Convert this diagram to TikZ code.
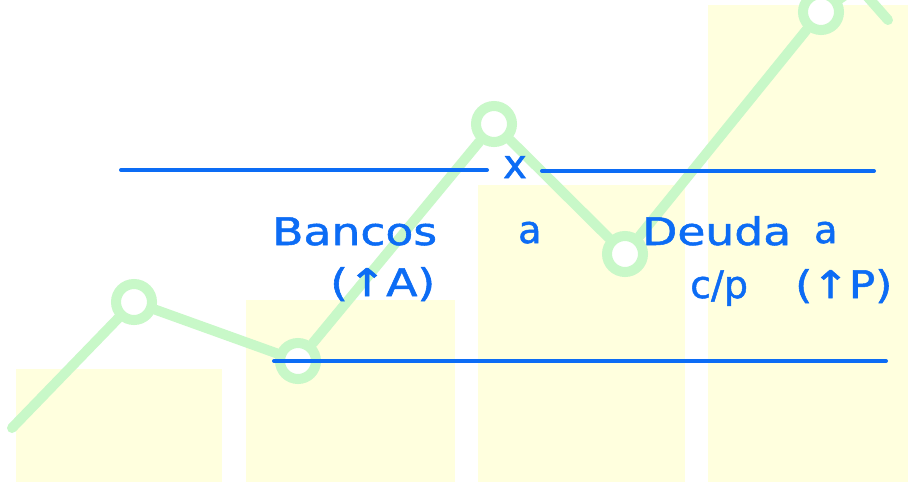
\documentclass[tikz,border=0pt]{standalone}
\usepackage{fontspec}
\setmainfont{DejaVu Sans}
\newfontfamily\handfont[FakeBold=1.3]{DejaVu Sans}
\definecolor{barY}{RGB}{255,255,222}
\definecolor{lineG}{RGB}{200,248,200}
\definecolor{inkB}{RGB}{12,108,245}
\tikzset{
  bar/.style={fill=barY, draw=none},
  gline/.style={draw=lineG, line width=10pt, line cap=round, line join=round},
  ring/.style={circle, draw=lineG, line width=10pt, fill=white, minimum size=36pt, inner sep=0pt},
  rule/.style={draw=inkB, line width=4pt, line cap=round},
  hand/.style={text=inkB, font=\handfont\fontsize{38}{40}\selectfont, inner sep=0pt, anchor=base west},
}
\begin{document}
\begin{tikzpicture}[x=1pt,y=-1pt]
\useasboundingbox (0,0) rectangle (908,482);
\fill[white] (0,0) rectangle (908,482);
% bars
\fill[bar] (16,369) rectangle (222,482);
\fill[bar] (246,300) rectangle (455,482);
\fill[bar] (478,185) rectangle (685,482);
\fill[bar] (708,5) rectangle (908,482);
% green chart line
\coordinate (p0) at (12,428);
\coordinate (tip) at (858,-14);
\coordinate (wing) at (888,20);
\node[ring] (c1) at (134,302) {};
\node[ring] (c2) at (298,361) {};
\node[ring] (c3) at (494,124) {};
\node[ring] (c4) at (625,254) {};
\node[ring] (c5) at (821,12) {};
\draw[gline] (p0) -- (c1) -- (c2) -- (c3) -- (c4) -- (c5) -- (tip) -- (wing);
% blue rules
\coordinate (t1a) at (121,170);
\coordinate (t1b) at (487,170);
\coordinate (t2a) at (542,171);
\coordinate (t2b) at (874,171);
\coordinate (b1a) at (274,361);
\coordinate (b1b) at (886,361);
\draw[rule] (t1a) -- (t1b);
\draw[rule] (t2a) -- (t2b);
\draw[rule] (b1a) -- (b1b);
\node[text=inkB, font=\handfont\fontsize{40}{42}\selectfont, inner sep=0pt, anchor=base] (x) at (515,178) {x};
% texts
\node[hand, xscale=1.2] (bancos) at (272,245) {Bancos};
\node[hand, xscale=1.2] (ia) at (330,296) {(↑A)};
\node[hand] (a1) at (518,243) {a};
\node[hand, xscale=1.2] (deuda) at (642,245) {Deuda};
\node[hand] (a2) at (814,243) {a};
\node[hand] (cp) at (690,298) {c/p};
\node[hand, xscale=1.15] (tp) at (795,298) {(↑P)};
\end{tikzpicture}
\end{document}
